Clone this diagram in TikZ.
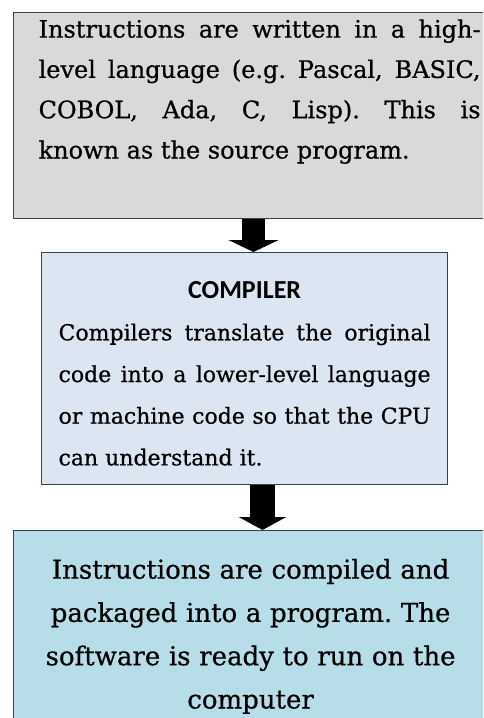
\documentclass[tikz,border=0pt]{standalone}
\usepackage{fontspec}
\setmainfont{DejaVu Serif}[FakeBold=0.6]
\newfontfamily\headfont{Carlito}
\usetikzlibrary{arrows.meta}
\definecolor{sourcegray}{RGB}{217,217,217}
\definecolor{compilerblue}{RGB}{220,230,242}
\definecolor{programblue}{RGB}{183,221,232}

\begin{document}
\frenchspacing
\begin{tikzpicture}[x=1pt,y=1pt]
		\tikzstyle{Box} = [rectangle, anchor=north west, inner ysep=0pt, draw=black!75, line width=1.2pt]
		\tikzstyle{Source} = [Box, fill=sourcegray, inner xsep=25pt, text width=442pt, align=justify, text height=25pt, text depth=181pt, font=\fontsize{24}{40.3}\selectfont]
		\tikzstyle{Compiler} = [Box, fill=compilerblue, inner xsep=17pt, text width=372pt, align=justify, text height=46pt, text depth=186pt, font=\fontsize{22}{41.7}\selectfont]
		\tikzstyle{Program} = [Box, fill=programblue, inner xsep=17pt, text width=440pt, align=center, text height=48pt, text depth=230pt, font=\fontsize{26}{43.3}\selectfont]
		\tikzstyle{arrow} = [black, line cap=butt]
		
		\useasboundingbox (0,0) rectangle (483,-718);
		\clip (0,0) rectangle (483,-718);
		\node (source) [Source] at (13,-12) {\tolerance=10000 \parfillskip=0pt Instructions are written in a high-\linebreak level language (e.g. Pascal, BASIC,\linebreak COBOL, Ada, C, Lisp). This is\linebreak known as the source program.};
		\node (compiler) [Compiler] at (41,-252) {{\headfont\bfseries\fontsize{26}{41.7}\selectfont\centerline{COMPILER}\par}\tolerance=10000 Compilers translate the original\linebreak code into a lower-level language\linebreak or machine code so that the CPU\linebreak can understand it.};
		\node (program) [Program] at (13,-530) {Instructions are compiled and\\ packaged into a program. The\\ software is ready to run on the\\ computer};
		
		\draw [arrow, line width=23pt, -{Triangle[width=50pt,length=12pt]}] (253.5,0 |- source.south) -- (253.5,0 |- compiler.north);
		\draw [arrow, line width=25pt, -{Triangle[width=47pt,length=13pt]}] (262.5,0 |- compiler.south) -- (262.5,0 |- program.north);
		\end{tikzpicture}
\end{document}
